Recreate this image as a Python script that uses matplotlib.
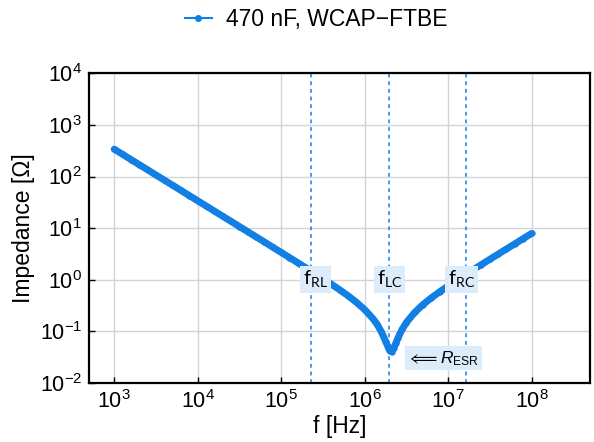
import matplotlib
matplotlib.use("Agg")
import matplotlib.pyplot as plt
from matplotlib.lines import Line2D

plt.rcParams['font.family'] = ['Liberation Sans', 'DejaVu Sans']
plt.rcParams['mathtext.fontset'] = 'custom'
plt.rcParams['mathtext.rm'] = 'Liberation Sans'
plt.rcParams['mathtext.it'] = 'Liberation Sans:italic'
plt.rcParams['mathtext.bf'] = 'Liberation Sans:bold'

# measured impedance of the 470 nF part
freq = [1.000e3, 1.259e3, 1.585e3, 1.995e3, 2.512e3, 3.162e3, 3.981e3, 5.012e3, 6.310e3, 7.943e3,
        1.000e4, 1.259e4, 1.585e4, 1.995e4, 2.512e4, 3.162e4, 3.981e4, 5.012e4, 6.310e4, 7.943e4,
        1.000e5, 1.259e5, 1.585e5, 1.995e5, 2.512e5, 3.162e5, 3.981e5, 5.012e5, 6.310e5, 7.943e5,
        1.000e6, 1.259e6, 1.413e6, 1.585e6, 1.778e6, 1.884e6, 1.995e6, 2.113e6, 2.239e6, 2.371e6,
        2.512e6, 2.818e6, 3.162e6, 3.981e6, 5.012e6, 6.310e6, 7.943e6,
        1.000e7, 1.259e7, 1.585e7, 1.995e7, 2.512e7, 3.162e7, 3.981e7, 5.012e7, 6.310e7, 7.943e7,
        1.000e8]
impedance = [338.6, 269.0, 213.6, 169.7, 134.8, 107.1, 85.06, 67.56, 53.67, 42.63,
             33.86, 26.90, 21.37, 16.97, 13.48, 10.71, 8.506, 6.757, 5.367, 4.257,
             3.378, 2.680, 2.124, 1.681, 1.328, 1.046, 0.819, 0.637, 0.489, 0.366,
             0.263, 0.175, 0.136, 0.098, 0.065, 0.052, 0.042, 0.040, 0.047, 0.059,
             0.074, 0.109, 0.147, 0.231, 0.329, 0.444, 0.583,
             0.753, 0.963, 1.224, 1.551, 1.959, 2.473, 3.118, 3.930, 4.950, 6.234,
             7.851]

# characteristic frequencies
f_rl = 2.29e5
f_lc = 1.95e6
f_rc = 1.64e7
r_esr = 0.030

blue = '#127fe4'
box_color = '#dcecfb'

fig = plt.figure(figsize=(5.94, 4.42), dpi=100)
ax = fig.add_axes([0.150, 0.134, 0.843, 0.700])

# dense measurement points drawn as a thick trace
ax.plot(freq, impedance, color=blue, lw=5.0, marker='o', ms=3.5,
        solid_capstyle='round', solid_joinstyle='round', zorder=3)

for f in (f_rl, f_lc, f_rc):
    ax.axvline(f, color=blue, lw=1.1, ls=(0, (2.5, 2.5)), zorder=2)

ax.set_xscale('log')
ax.set_yscale('log')
ax.set_xlim(5e2, 5e8)
ax.set_ylim(1e-2, 1e4)
ax.set_xticks([1e3, 1e4, 1e5, 1e6, 1e7, 1e8])
ax.set_yticks([1e-2, 1e-1, 1e0, 1e1, 1e2, 1e3, 1e4])
ax.minorticks_off()
ax.grid(True, color='#d4d4d4', lw=1.0, zorder=0)
ax.set_axisbelow(True)
ax.tick_params(direction='in', length=4, width=1, labelsize=15.5, pad=5)
for s in ax.spines.values():
    s.set_linewidth(1.6)

ax.set_xlabel('f [Hz]', fontsize=16.5, labelpad=2)
ax.set_ylabel('Impedance [Ω]', fontsize=16.5, labelpad=3)

box = dict(boxstyle='square,pad=0.15', fc=box_color, ec='none')
lab_font = ['Lato', 'DejaVu Sans']
ax.text(f_rl * 1.12, 1.0, r'f$_{\mathregular{RL}}$', fontsize=14.5, family=lab_font,
        ha='center', va='center', bbox=box, zorder=4)
ax.text(f_lc * 1.02, 1.0, r'f$_{\mathregular{LC}}$', fontsize=14.5, family=lab_font,
        ha='center', va='center', bbox=box, zorder=4)
ax.text(f_rc * 0.89, 1.0, r'f$_{\mathregular{RC}}$', fontsize=14.5, family=lab_font,
        ha='center', va='center', bbox=box, zorder=4)
ax.text(8.8e6, r_esr, r'$\Longleftarrow R_{\mathregular{ESR}}$', fontsize=12.5,
        ha='center', va='center', bbox=box, zorder=4)

handle = Line2D([], [], color=blue, lw=1.5, marker='o', ms=4)
fig.legend([handle], ['470 nF, WCAP\u2212FTBE'], loc='center', bbox_to_anchor=(0.532, 0.955),
           frameon=False, fontsize=16.5, handlelength=1.2, handletextpad=0.6)

fig.savefig('out.png', dpi=100)
